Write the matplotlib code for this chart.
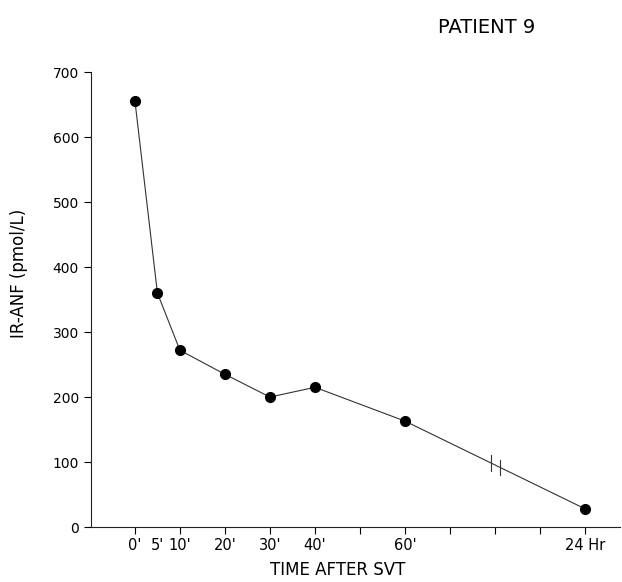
import numpy as np
import matplotlib.pyplot as plt

# time position (10-min units on the drawn axis; 24 Hr drawn at 100)
times = [0, 5, 10, 20, 30, 40, 60, 100]
anf = [656, 360, 272, 235, 200, 215, 163, 28]

major_ticks = [0, 10, 20, 30, 40, 50, 60, 70, 80, 90, 100]
major_labels = ["0'", "10'", "20'", "30'", "40'", "", "60'", "", "", "", "24 Hr"]
minor_ticks = [5]
minor_labels = ["5'"]
y_ticks = [0, 100, 200, 300, 400, 500, 600, 700]

plt.rcParams['font.family'] = ['DejaVu Sans']

fig = plt.figure(figsize=(6.22, 5.82), dpi=100)
ax = fig.add_axes([0.146, 0.0945, 0.851, 0.7815])

ax.plot(times, anf, color='#333333', linewidth=0.8, zorder=2)
ax.plot(times, anf, 'o', color='black', markersize=7, zorder=3)

# axis break marks on the 60' -> 24 Hr segment
for xb in [79, 81.2]:
    yb = np.interp(xb, times, anf)
    ax.plot([xb, xb], [yb - 12, yb + 12], color='#333333', linewidth=0.8)

ax.set_xlim(-9.8, 107.8)
ax.set_ylim(0, 700)
ax.set_xticks(major_ticks, major_labels)
ax.set_xticks(minor_ticks, minor_labels, minor=True)
ax.set_yticks(y_ticks)

ax.tick_params(axis='x', which='major', direction='out', length=5, width=0.8,
               labelsize=10.5, pad=3)
ax.tick_params(axis='x', which='minor', length=0, labelsize=10.5, pad=8)
ax.tick_params(axis='y', direction='out', length=5, width=0.8, labelsize=10)

for side in ['top', 'right']:
    ax.spines[side].set_visible(False)
for side in ['left', 'bottom']:
    ax.spines[side].set_linewidth(0.8)
    ax.spines[side].set_color('#222222')

fig.text(0.783, 0.953, 'PATIENT 9', ha='center', va='center', fontsize=14)
fig.text(0.543, 0.021, 'TIME AFTER SVT', ha='center', va='center', fontsize=12)
fig.text(0.03, 0.53, 'IR-ANF (pmol/L)', ha='center', va='center',
         rotation=90, fontsize=12)

fig.savefig('out.png', dpi=100)
